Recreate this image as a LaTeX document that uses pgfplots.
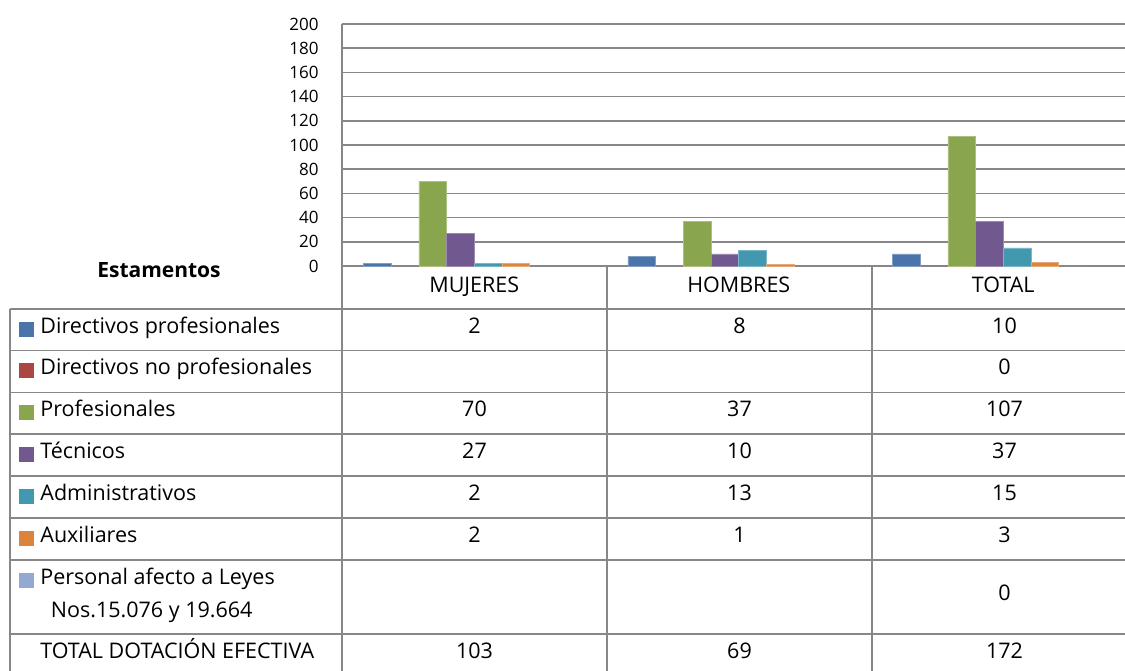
\documentclass[border=0pt]{standalone}
\usepackage{pgfplots}
\pgfplotsset{compat=1.18}
\usepackage{fontspec}
\setmainfont{Open Sans}

\definecolor{cblue}{HTML}{4A74AA}
\definecolor{cred}{HTML}{AA4643}
\definecolor{cgreen}{HTML}{89A54E}
\definecolor{cpurple}{HTML}{71588F}
\definecolor{cteal}{HTML}{4198AF}
\definecolor{corange}{HTML}{DB843D}
\definecolor{clight}{HTML}{93A9CF}
\definecolor{gridgrey}{HTML}{878787}

\newcommand{\tfont}{\fontsize{10.75}{13}\selectfont}

\begin{document}
\begin{tikzpicture}
\path[use as bounding box] (0,0) rectangle (562.5pt,335pt);

\begin{axis}[
    at={(171pt,202pt)}, anchor=south west,
    x=132.25pt, y=0.605pt,
    xmin=-0.5, xmax=2.4603,
    ymin=0, ymax=200,
    ybar, bar width=13.85pt,
    axis x line*=bottom, axis y line*=left,
    axis line style={-, draw=gridgrey, line width=0.75pt},
    ymajorgrids, grid style={draw=gridgrey, line width=0.75pt},
    ytick={0,20,...,200},
    xtick={0,1,2},
    xticklabels={MUJERES,HOMBRES,TOTAL},
    major tick length=0pt,
    /pgf/number format/assume math mode=true,
    yticklabel style={font=\fontsize{8.5}{10}\selectfont, anchor=east, inner sep=0pt, xshift=-11.5pt},
    xticklabel style={font=\tfont, anchor=base, inner sep=0pt, yshift=-13pt},
    clip=false,
]
% Directivos profesionales
\addplot[fill=cblue, draw=cblue!70!white, line width=0.3pt, bar shift=-48.475pt]
  coordinates {(0,2) (1,8) (2,10)};
% Directivos no profesionales
\addplot[fill=cred, draw=none, bar shift=-34.625pt]
  coordinates {(2,0)};
% Profesionales
\addplot[fill=cgreen, draw=cgreen!70!white, line width=0.3pt, bar shift=-20.775pt]
  coordinates {(0,70) (1,37) (2,107)};
% Tecnicos
\addplot[fill=cpurple, draw=cpurple!70!white, line width=0.3pt, bar shift=-6.925pt]
  coordinates {(0,27) (1,10) (2,37)};
% Administrativos
\addplot[fill=cteal, draw=cteal!70!white, line width=0.3pt, bar shift=6.925pt]
  coordinates {(0,2) (1,13) (2,15)};
% Auxiliares
\addplot[fill=corange, draw=corange!70!white, line width=0.3pt, bar shift=20.775pt]
  coordinates {(0,2) (1,1) (2,3)};
% Personal afecto a leyes
\addplot[fill=clight, draw=none, bar shift=34.625pt]
  coordinates {(2,0)};
\end{axis}

% data table, in pixel units of the reference (y downward)
\begin{scope}[shift={(0,335pt)}, x=0.5pt, y=-0.5pt,
    tline/.style={draw=gridgrey, line width=0.7pt},
    lab/.style={font=\tfont, anchor=base west, inner sep=0pt},
    val/.style={font=\tfont, anchor=base, inner sep=0pt}]
  \foreach \xx in {342,607,872} \draw[tline] (\xx,266) -- (\xx,672);
  \draw[tline] (10,309) -- (10,672);
  \foreach \yy in {309,350.5,392.5,434,476,518,560,634}
    \draw[tline] (10,\yy) -- (1126,\yy);

  \node[font=\fontsize{10.5}{12}\selectfont\bfseries, anchor=base, inner sep=0pt] at (159,278) {Estamentos};

  % legend keys
  \foreach \t/\c in {309/cblue,350.5/cred,392.5/cgreen,434/cpurple,476/cteal,518/corange,560/clight}
    \fill[\c] (19,\t+13) rectangle (34,\t+28);

  \node[lab] at (40,333.5) {Directivos profesionales};
  \node[lab] at (40,375) {Directivos no profesionales};
  \node[lab] at (40,417) {Profesionales};
  \node[lab] at (40,458.5) {Técnicos};
  \node[lab] at (40,500.5) {Administrativos};
  \node[lab] at (40,542.5) {Auxiliares};
  \node[lab] at (40,584) {Personal afecto a Leyes};
  \node[lab] at (50.5,617) {Nos.15.076 y 19.664};
  \node[lab] at (40,658) {TOTAL DOTACIÓN EFECTIVA};

  % values
  \foreach \y/\a/\b/\c in {333.5/2/8/10, 375///0, 417/70/37/107, 458.5/27/10/37,
      500.5/2/13/15, 542.5/2/1/3, 600.5///0, 658/103/69/172} {
    \node[val] at (474.5,\y) {\a};
    \node[val] at (739.5,\y) {\b};
    \node[val] at (1004.5,\y) {\c};
  }
\end{scope}
\end{tikzpicture}
\end{document}
